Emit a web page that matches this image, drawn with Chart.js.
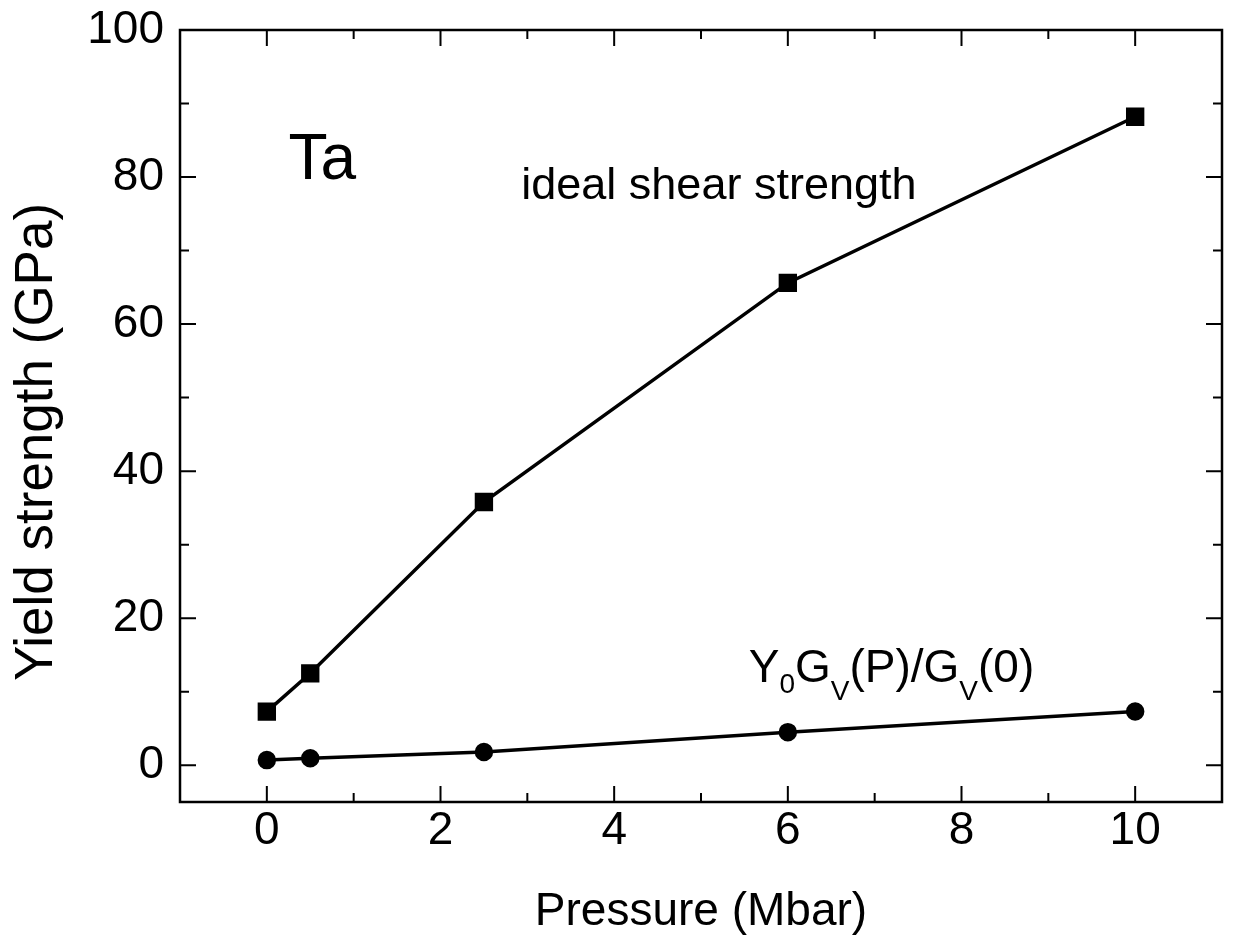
<!DOCTYPE html>
<html>
<head>
<meta charset="utf-8">
<title>Ta yield strength vs pressure</title>
<script src="https://cdn.jsdelivr.net/npm/chart.js@4/dist/chart.umd.min.js"></script>
<style>
  html, body { margin: 0; padding: 0; background: #fff; }
  #wrap { width: 1236px; height: 952px; }
</style>
</head>
<body>
<div id="wrap"><canvas id="chart" width="1236" height="952"></canvas></div>
<script>
// ===== Data =====
const pressure = [0, 0.5, 2.5, 6, 10];              // Mbar
const idealShear = [7.3, 12.5, 35.8, 65.6, 88.2];   // GPa, squares
const scaledYield = [0.7, 0.95, 1.8, 4.5, 7.3];     // GPa, circles
const xTickLabels = [0, 2, 4, 6, 8, 10];
const yTickLabels = [0, 20, 40, 60, 80, 100];

const FONT = "'Liberation Sans', Arial, Helvetica, sans-serif";

// frame + inward ticks on all four sides
const frameTicks = {
  id: 'frameTicks',
  afterDatasetsDraw(chart) {
    const { ctx, chartArea: a, scales: { x, y } } = chart;
    ctx.save();
    ctx.strokeStyle = '#000';
    ctx.lineWidth = 2.5;
    ctx.strokeRect(a.left, a.top, a.right - a.left, a.bottom - a.top);
    ctx.lineWidth = 2;
    ctx.beginPath();
    x.ticks.forEach(t => {
      const v = t.value;
      if (v <= x.min || v >= x.max) return;
      const px = x.getPixelForValue(v);
      const len = xTickLabels.includes(v) ? 16 : 9;
      ctx.moveTo(px, a.bottom); ctx.lineTo(px, a.bottom - len);
      ctx.moveTo(px, a.top); ctx.lineTo(px, a.top + len);
    });
    y.ticks.forEach(t => {
      const v = t.value;
      if (v % 10 !== 0 || v <= y.min || v >= y.max) return;
      const py = y.getPixelForValue(v);
      const len = yTickLabels.includes(v) ? 16 : 9;
      ctx.moveTo(a.left, py); ctx.lineTo(a.left + len, py);
      ctx.moveTo(a.right, py); ctx.lineTo(a.right - len, py);
    });
    ctx.stroke();
    ctx.restore();
  }
};

// text labels inside the plot, placed in data coordinates
function drawParts(ctx, x0, y0, parts) {
  let cx = x0;
  parts.forEach(([txt, size, dy]) => {
    ctx.font = size + 'px ' + FONT;
    ctx.fillText(txt, cx, y0 + dy);
    cx += ctx.measureText(txt).width;
  });
}

const notes = {
  id: 'notes',
  afterDatasetsDraw(chart) {
    const { ctx, chartArea: a, scales: { x, y } } = chart;
    ctx.save();
    ctx.fillStyle = '#000';
    ctx.textBaseline = 'alphabetic';
    ctx.textAlign = 'left';
    drawParts(ctx, x.getPixelForValue(0.25), y.getPixelForValue(79.8), [['Ta', 64, 0]]);
    drawParts(ctx, x.getPixelForValue(2.93), y.getPixelForValue(77), [['ideal shear strength', 45, 0]]);
    drawParts(ctx, x.getPixelForValue(5.55), y.getPixelForValue(11.3), [
      ['Y', 46, 0], ['0', 28, 11], ['G', 46, 0], ['V', 28, 18],
      ['(P)/G', 46, 0], ['V', 28, 18], ['(0)', 46, 0]
    ]);
    // y axis title, a bit larger and set lower than the axis middle as in the figure
    ctx.translate(37, (a.top + a.bottom) / 2 + 26);
    ctx.rotate(-Math.PI / 2);
    ctx.textAlign = 'center';
    ctx.textBaseline = 'middle';
    ctx.font = '53px ' + FONT;
    ctx.fillText('Yield strength (GPa)', 0, 0);
    ctx.restore();
  }
};

new Chart(document.getElementById('chart'), {
  type: 'scatter',
  data: {
    datasets: [
      {
        label: 'ideal shear strength',
        data: pressure.map((p, i) => ({ x: p, y: idealShear[i] })),
        showLine: true,
        borderColor: '#000',
        backgroundColor: '#000',
        borderWidth: 3.5,
        pointStyle: 'rect',
        pointRadius: 10.5,
        pointHoverRadius: 10.5
      },
      {
        label: 'Y0 GV(P)/GV(0)',
        data: pressure.map((p, i) => ({ x: p, y: scaledYield[i] })),
        showLine: true,
        borderColor: '#000',
        backgroundColor: '#000',
        borderWidth: 3.5,
        pointStyle: 'circle',
        pointRadius: 7.5,
        pointHoverRadius: 7.5
      }
    ]
  },
  options: {
    responsive: false,
    animation: false,
    layout: { padding: { top: 30, right: 8, left: 0, bottom: 0 } },
    plugins: {
      legend: { display: false },
      tooltip: { enabled: false }
    },
    scales: {
      x: {
        type: 'linear',
        min: -1,
        max: 11,
        grid: { display: false, drawTicks: false },
        border: { display: false },
        afterFit: s => { s.height = 150; s.paddingLeft = 0; s.paddingRight = -6; },
        ticks: {
          stepSize: 1,
          includeBounds: false,
          padding: 2,
          color: '#000',
          font: { family: FONT, size: 46 },
          maxRotation: 0,
          autoSkip: false,
          callback: v => xTickLabels.includes(v) ? String(v) : ''
        },
        title: {
          display: true,
          text: 'Pressure (Mbar)',
          color: '#000',
          font: { family: FONT, size: 46 },
          padding: { top: 0, bottom: 12 }
        }
      },
      y: {
        type: 'linear',
        min: -5,
        max: 100,
        grid: { display: false, drawTicks: false },
        border: { display: false },
        afterFit: s => { s.width = 180; s.paddingTop = 0; s.paddingBottom = 0; },
        ticks: {
          stepSize: 10,
          includeBounds: false,
          padding: 16,
          color: '#000',
          font: { family: FONT, size: 46 },
          autoSkip: false,
          callback: v => yTickLabels.includes(v) ? String(v) : ''
        }
      }
    }
  },
  plugins: [frameTicks, notes]
});
</script>
</body>
</html>
